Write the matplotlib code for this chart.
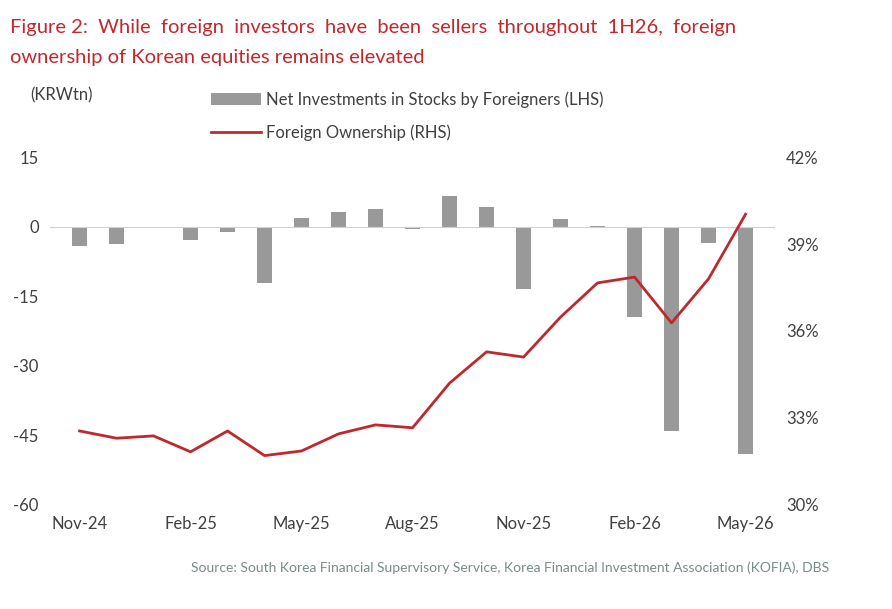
import matplotlib
matplotlib.use("Agg")
import matplotlib.pyplot as plt
import numpy as np

months = ["Nov-24","Dec-24","Jan-25","Feb-25","Mar-25","Apr-25","May-25","Jun-25","Jul-25","Aug-25",
          "Sep-25","Oct-25","Nov-25","Dec-25","Jan-26","Feb-26","Mar-26","Apr-26","May-26"]
net_inv = [-4.2,-3.8,-0.3,-2.8,-1.2,-12.2,1.8,3.1,3.8,-0.5,6.6,4.2,-13.5,1.6,0.2,-19.4,-44.0,-3.6,-49.0]
ownership = [32.55,32.3,32.38,31.83,32.55,31.7,31.86,32.45,32.76,32.66,34.2,35.28,35.1,36.48,37.66,37.86,36.28,37.8,40.03]
left_ticks = [-60,-45,-30,-15,0,15]
right_ticks = [30,33,36,39,42]

plt.rcParams['font.family'] = ['Lato', 'DejaVu Sans']
plt.rcParams['axes.unicode_minus'] = False
fig = plt.figure(figsize=(8.92, 6.09), dpi=100)
ax = fig.add_axes([0.056, 0.171, 0.813, 0.571])
x = np.arange(len(months))
ax.bar(x, net_inv, width=0.4, color='#999999', label='Net Investments in Stocks by Foreigners (LHS)')
ax.axhline(0, color='#d0d0d0', lw=0.8)
ax.set_ylim(-60, 15)
ax.set_yticks(left_ticks)
ax.set_yticklabels([str(v) for v in left_ticks])
ax.set_xlim(-0.8, 18.8)
ax.set_xticks(x[::3])
ax.set_xticklabels(months[::3])
ax2 = ax.twinx()
ax2.plot(x, ownership, color='#c0282d', lw=2, label='Foreign Ownership (RHS)')
ax2.set_ylim(30, 42)
ax2.set_yticks(right_ticks)
ax2.set_yticklabels([f"{v}%" for v in right_ticks])
for a in (ax, ax2):
    for s in a.spines.values():
        s.set_visible(False)
    a.tick_params(length=0, labelsize=12, colors='#404040', pad=8)
fig.text(0.011, 0.955, "Figure 2:  While  foreign  investors  have  been  sellers  throughout  1H26,  foreign",
         color='#c0282d', fontsize=14.5, va='center')
fig.text(0.011, 0.905, "ownership of Korean equities remains elevated", color='#c0282d', fontsize=14.5, va='center')
fig.text(0.034, 0.843, "(KRWtn)", color='#404040', fontsize=12, va='center')
h1, l1 = ax.get_legend_handles_labels()
h2, l2 = ax2.get_legend_handles_labels()
fig.legend(h1+h2, l1+l2, loc='upper left', bbox_to_anchor=(0.22, 0.875), frameon=False,
           fontsize=12, labelcolor='#404040', handlelength=3, labelspacing=1.0, handletextpad=0.3)
fig.text(0.93, 0.068, "Source: South Korea Financial Supervisory Service, Korea Financial Investment Association (KOFIA), DBS",
         color='#7a8a8a', fontsize=10, ha='right', va='center')
fig.savefig("out.png", dpi=100)
